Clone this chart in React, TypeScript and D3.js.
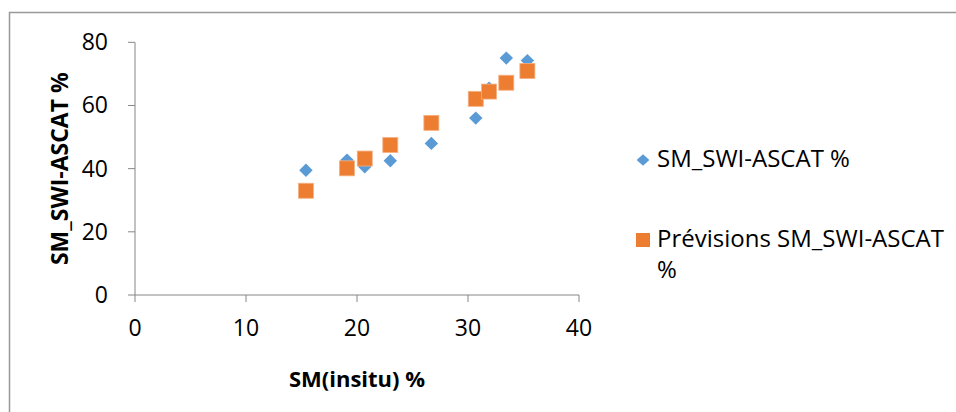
import React from "react";
import * as d3 from "d3";

// In-situ soil moisture (%) for each site
const insitu = [15.4, 19.1, 20.7, 23.0, 26.7, 30.7, 31.9, 33.45, 35.35];
// Observed SWI-ASCAT soil moisture (%)
const swiAscat = [39.5, 42.7, 40.6, 42.5, 48.0, 56.0, 65.5, 75.0, 74.2];
// Predicted SWI-ASCAT soil moisture (%)
const previsions = [33.0, 40.1, 43.2, 47.5, 54.5, 62.1, 64.4, 67.2, 70.9];

const xTicks = [0, 10, 20, 30, 40];
const yTicks = [0, 20, 40, 60, 80];

const seriesNames = ["SM_SWI-ASCAT %", "Prévisions SM_SWI-ASCAT", "%"];
const xTitle = "SM(insitu) %";
const yTitle = "SM_SWI-ASCAT %";

const BLUE = "#5B9BD5";
const ORANGE = "#ED7D31";
const AXIS = "#868686";
const FONT = "'Open Sans', 'Noto Sans', sans-serif";

export default function App() {
  const W = 956;
  const H = 412;
  const x = d3.scaleLinear().domain([0, 40]).range([135, 579]);
  const y = d3.scaleLinear().domain([0, 80]).range([295, 42.3]);

  const diamond = d3.symbol().type(d3.symbolDiamond2).size(115)()!;
  const M = 15; // square marker side

  return (
    <svg
      width={W}
      height={H}
      style={{ position: "absolute", left: 0, top: 0, background: "#fff" }}
      fontFamily={FONT}
    >
      <rect x={0} y={0} width={W} height={H} fill="#fff" />
      {/* chart frame */}
      <path d={`M9.5,${H + 2}V12.5H${W + 2}`} fill="none" stroke="#999" strokeWidth={1.5} />

      {/* axes */}
      <line x1={x(0)} x2={x(0)} y1={y(80)} y2={y(0)} stroke={AXIS} strokeWidth={1} />
      <line x1={x(0)} x2={x(40)} y1={y(0)} y2={y(0)} stroke={AXIS} strokeWidth={1} />
      {yTicks.map((t) => (
        <g key={`y${t}`}>
          <line x1={x(0) - 7} x2={x(0)} y1={y(t)} y2={y(t)} stroke={AXIS} />
          <text x={108} y={y(t) + 8} textAnchor="end" fontSize={23} fill="#000">
            {t}
          </text>
        </g>
      ))}
      {xTicks.map((t) => (
        <g key={`x${t}`}>
          <line x1={x(t)} x2={x(t)} y1={y(0)} y2={y(0) + 7} stroke={AXIS} />
          <text x={x(t)} y={336} textAnchor="middle" fontSize={23} fill="#000">
            {t}
          </text>
        </g>
      ))}

      {/* axis titles */}
      <text x={357} y={387} textAnchor="middle" fontSize={22} fontWeight="bold" fill="#000">
        {xTitle}
      </text>
      <text
        transform={`translate(68,${(y(0) + y(80)) / 2}) rotate(-90)`}
        textAnchor="middle"
        fontSize={23}
        fontWeight="bold"
        fill="#000"
      >
        {yTitle}
      </text>

      {/* observed */}
      {insitu.map((v, i) => (
        <path key={`b${i}`} d={diamond} transform={`translate(${x(v)},${y(swiAscat[i])})`} fill={BLUE} />
      ))}
      {/* predicted */}
      {insitu.map((v, i) => (
        <rect
          key={`o${i}`}
          x={x(v) - M / 2}
          y={y(previsions[i]) - M / 2}
          width={M}
          height={M}
          fill={ORANGE}
          stroke="#F4B183"
          strokeWidth={0.8}
        />
      ))}

      {/* legend */}
      <path d={diamond} transform="translate(643,160) scale(0.95,0.85)" fill={BLUE} />
      <text x={657} y={167} fontSize={24} fill="#000">
        {seriesNames[0]}
      </text>
      <rect x={636} y={233} width={14} height={14} fill={ORANGE} />
      <text x={657} y={247} fontSize={24} fill="#000">
        {seriesNames[1]}
      </text>
      <text x={657} y={278} fontSize={24} fill="#000">
        {seriesNames[2]}
      </text>
    </svg>
  );
}
